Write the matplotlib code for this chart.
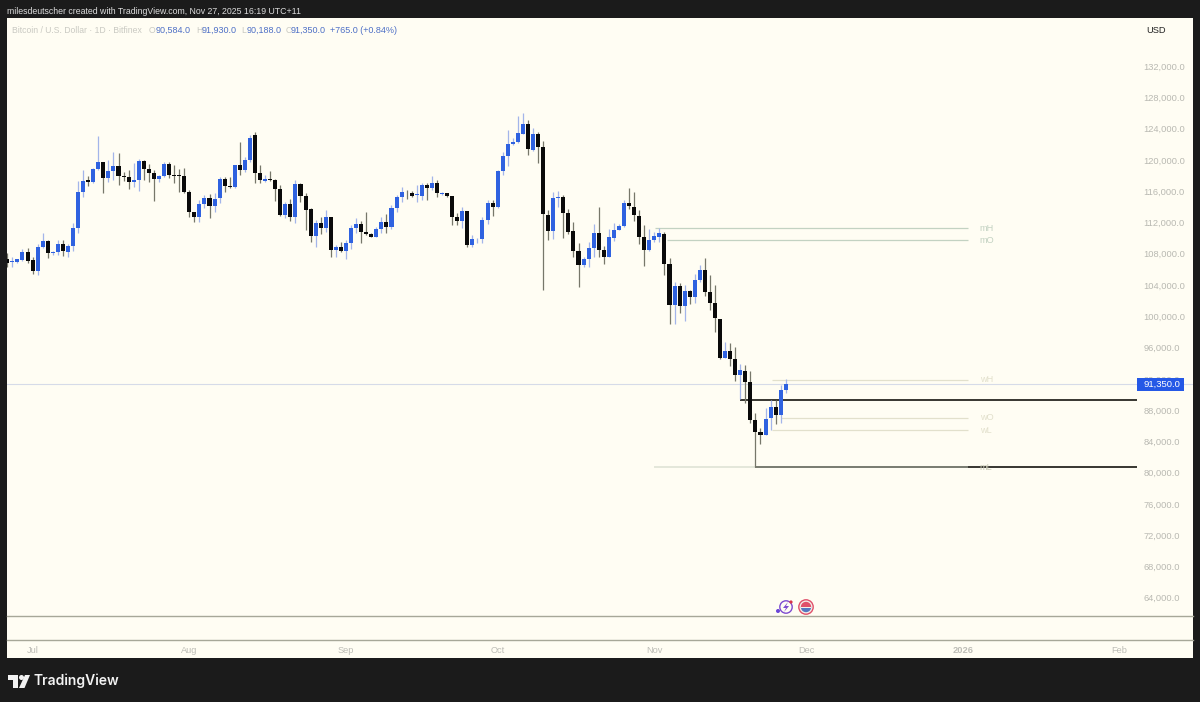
import numpy as np
import matplotlib
matplotlib.use("Agg")
import matplotlib.pyplot as plt
from matplotlib.patches import Circle, Polygon, Rectangle, Wedge

plt.rcParams['font.family'] = ['Liberation Sans', 'DejaVu Sans']

# daily candles, thousands of USD
highs = [108.13,107.61,107.36,108.55,108.68,107.53,109.23,110.60,109.75,108.38,
         109.75,109.75,109.23,111.88,117.33,118.70,117.93,118.91,123.05,119.76,
         119.98,121.00,120.83,118.48,118.70,119.55,120.06,119.98,119.46,118.70,
         118.06,119.76,119.76,119.34,118.83,118.91,116.14,113.37,114.86,115.50,
         115.63,115.71,117.76,117.76,117.84,119.34,122.24,120.40,123.17,123.52,
         119.34,118.06,118.61,117.50,116.78,114.65,114.95,117.42,116.99,115.71,
         113.80,112.30,112.73,113.58,112.64,109.11,109.53,109.75,111.66,112.52,
         112.22,113.37,110.68,111.37,112.64,113.07,114.22,115.50,116.48,116.14,
         116.05,116.78,117.08,117.08,117.93,117.42,115.93,115.80,115.37,113.24,
         113.92,113.50,110.38,109.96,112.73,114.86,114.86,118.70,121.04,123.81,
         122.75,125.60,125.94,125.09,124.03,123.60,122.45,113.58,115.84,116.06,
         115.50,113.71,112.09,109.32,107.53,109.53,111.79,114.01,108.98,111.11,
         111.88,111.79,114.86,116.36,115.84,113.58,111.67,111.11,110.81,111.32,
         110.81,107.40,104.42,104.21,104.00,103.35,105.40,106.55,107.40,105.27,
         104.00,99.68,96.74,96.53,96.10,93.84,93.76,92.99,87.57,85.66,
         88.21,89.28,89.28,91.20,91.93]
body_tops = [107.27,107.02,107.27,108.25,108.25,107.14,108.85,109.62,109.66,108.21,
             109.23,109.23,108.98,111.28,115.84,117.29,117.38,118.83,119.72,119.72,
             118.57,119.17,119.17,117.93,117.76,117.38,119.89,119.89,118.78,118.31,
             117.93,119.51,119.51,118.06,118.06,117.93,115.84,113.33,114.35,115.07,
             115.07,115.03,117.50,117.50,116.65,119.29,119.29,119.98,122.79,123.22,
             118.31,117.50,117.50,117.42,116.31,114.39,114.39,116.91,116.91,115.42,
             113.67,111.88,111.88,112.64,112.64,108.89,108.89,109.32,111.24,111.79,
             111.79,110.81,110.51,111.11,112.01,112.01,113.80,115.29,115.93,115.93,
             115.76,115.59,116.74,116.74,116.99,116.99,115.80,115.71,115.33,112.69,
             113.41,113.45,109.83,109.79,112.26,114.52,114.48,118.53,120.45,122.02,
             122.32,123.39,124.58,124.58,123.30,123.30,121.64,112.94,115.12,115.29,
             115.25,113.16,110.86,108.30,107.32,108.68,110.69,110.69,108.47,110.09,
             111.07,111.54,114.44,114.44,114.01,112.86,110.09,109.75,110.22,110.60,
             110.56,106.64,103.86,103.86,103.27,103.27,104.67,105.91,105.91,103.14,
             101.65,99.68,95.55,95.59,94.48,93.07,93.03,91.54,86.72,85.23,
             86.89,88.34,88.38,90.52,91.35]
body_bottoms = [106.85,106.89,106.97,107.19,107.10,105.78,105.78,108.85,108.08,108.04,
                108.21,108.30,108.25,108.98,111.28,115.84,117.21,117.16,118.83,117.72,
                117.72,118.57,117.89,117.76,117.16,117.12,117.38,118.83,118.27,117.59,
                117.59,117.93,118.06,117.97,117.97,115.84,113.37,112.69,112.64,114.31,
                114.09,114.09,115.07,116.65,116.48,116.48,118.74,118.70,119.98,118.31,
                117.42,117.33,117.42,116.27,112.90,112.90,112.64,112.64,115.42,113.58,
                110.26,110.26,111.32,111.32,108.47,108.47,108.30,108.30,109.32,111.28,
                110.81,110.51,110.17,110.13,111.11,111.41,111.41,113.80,115.29,115.84,
                115.42,115.46,115.42,116.40,116.35,115.71,115.67,115.37,112.73,112.13,
                112.13,109.06,109.06,109.70,109.87,112.30,113.92,113.92,118.57,120.45,
                122.07,122.24,123.34,121.34,121.30,121.64,113.03,110.90,110.90,115.08,
                113.16,110.81,108.34,106.59,106.59,107.32,108.68,108.47,107.57,107.57,
                110.05,111.03,111.54,114.10,112.90,110.17,108.43,108.43,109.75,110.17,
                106.68,101.43,101.43,101.31,101.31,102.42,102.42,104.63,103.14,101.65,
                99.73,94.69,94.69,94.52,92.43,92.43,91.54,86.72,85.23,84.80,
                84.80,86.93,87.40,87.40,90.584]
lows = [106.33,106.33,106.76,107.10,106.85,105.40,105.23,108.68,107.40,107.83,
        107.83,107.70,107.61,108.38,110.60,115.20,116.65,116.99,118.70,115.71,
        117.21,117.42,116.78,117.29,116.31,116.48,116.05,117.42,117.21,114.73,
        117.16,117.76,117.63,116.99,115.93,115.71,112.73,112.09,112.09,113.80,
        112.60,113.37,114.43,115.93,116.35,116.40,118.06,118.48,119.76,117.08,
        116.99,117.21,117.29,114.78,112.86,112.52,112.22,111.96,114.65,111.02,
        109.45,108.81,110.47,110.81,107.53,107.53,108.21,107.27,108.55,110.60,
        109.40,110.38,110.09,110.09,110.68,110.60,111.11,113.37,114.65,114.95,
        115.29,114.60,114.86,114.86,116.14,115.29,115.50,115.29,111.66,111.66,
        111.24,108.81,108.89,109.32,109.40,111.79,112.81,113.80,118.06,119.25,
        121.89,122.11,123.26,120.62,121.17,119.55,103.35,109.75,109.83,114.01,
        110.05,110.51,107.62,103.69,106.34,106.34,107.62,107.53,106.68,107.53,
        109.66,111.03,111.37,113.67,112.22,109.24,106.42,108.34,109.53,109.53,
        105.27,98.96,99.00,100.45,99.43,101.52,101.65,104.42,102.59,100.80,
        98.02,94.48,94.61,93.63,91.71,89.37,88.85,86.30,80.75,83.65,
        84.76,85.44,86.17,86.38,90.188]
candle_dir = ("kbbbkkbbkb" "bkbbbbkbbk" "bbkkkbbkkk" "bbkkkkkkbb" "kbbkkbkbbk"
              "kbkkkbkbkk" "kbkbkbkbbb" "kkkbbkbbbk" "kbbkbkbkkk" "bkbbbbkbbb"
              "bbbkbkkkbb" "kkkkbbbkkb" "bbbkkkkbbb" "kkbkbkbbkk" "kkbkkbkkkk"
              "bbkbb")

price_ticks = list(range(64000, 136000, 4000))
month_pos = [5, 36, 67, 97, 128, 158, 189, 220]
month_labels = ["Jul", "Aug", "Sep", "Oct", "Nov", "Dec", "2026", "Feb"]
last_price = 91350

# name, price, first candle, last candle
levels = [("mH", 111280, 128.1, 190.0),
          ("mO", 109750, 130.5, 190.0),
          ("wH", 91850, 151.2, 190.0),
          ("wO", 86990, 153.1, 190.0),
          ("wL", 85450, 151.2, 190.0)]
level_colors = ["#c3d2c2", "#c3d2c2", "#e2e0cc", "#e2e0cc", "#e2e0cc"]
mL_price = 80720
black_lines = [(89340, 144.9, 223.5), (80720, 148.0, 223.5)]

BLUE = "#2f62e0"
BLACK = "#0a0a0a"
BG = "#fffdf3"
DARK = "#1b1b1b"

highs = np.array(highs) * 1000
lows = np.array(lows) * 1000
body_tops = np.array(body_tops) * 1000
body_bottoms = np.array(body_bottoms) * 1000
idx = np.arange(len(highs))
is_up = np.array([c == "b" for c in candle_dir])

fig = plt.figure(figsize=(12, 7.02), dpi=100, facecolor=DARK)
# pane is x 7..1193, y 18..658 in picture pixels
ax = fig.add_axes([7 / 1200, 1 - 658 / 702, 1186 / 1200, 640 / 702], facecolor=BG)
ax.set_xlim(-0.06, 234.56)
ax.set_ylim(56300, 138140)
for s in ax.spines.values():
    s.set_visible(False)

ax.axhline(last_price, color="#d6dbe8", lw=0.8, zorder=1)

for (name, price, x0, x1), col in zip(levels, level_colors):
    ax.hlines(price, x0, x1, color=col, lw=0.9, zorder=1)
    ax.text(192.4, price, name, color=col, fontsize=6.6, va="center", ha="left")

for price, x0, x1 in black_lines:
    ax.hlines(price, x0, x1, color="#15150f", lw=1.2, zorder=1.5)
ax.hlines(mL_price, 127.9, 190.0, color="#c6cebd", lw=1.1, alpha=0.6, zorder=1.6)
ax.text(192.4, mL_price, "mL", color="#c8c8b4", fontsize=6.6, va="center", ha="left")

ax.vlines(idx[~is_up], lows[~is_up], highs[~is_up], color="#77776a", lw=0.9, zorder=2)
ax.vlines(idx[is_up], lows[is_up], highs[is_up], color="#a3b5ea", lw=0.9, zorder=2)
ax.bar(idx[~is_up], (body_tops - body_bottoms)[~is_up], 0.8, bottom=body_bottoms[~is_up],
       color=BLACK, zorder=2.2)
ax.bar(idx[is_up], (body_tops - body_bottoms)[is_up], 0.8, bottom=body_bottoms[is_up],
       color=BLUE, zorder=2.2)

ax.yaxis.tick_right()
ax.set_yticks(price_ticks)
ax.set_yticklabels(["{:,.1f}".format(p) for p in price_ticks])
ax.tick_params(axis="y", length=0, pad=-35.5, labelsize=6.7, labelcolor="#b9b9b2")
ax.set_xticks(month_pos)
ax.set_xticklabels(month_labels)
ax.tick_params(axis="x", length=0, pad=-8.8, labelsize=6.7, labelcolor="#bdbdb6")
ax.get_xticklabels()[6].set_fontweight("bold")

# chrome in picture pixels
ov = fig.add_axes([0, 0, 1, 1], facecolor="none")
ov.set_xlim(0, 1200)
ov.set_ylim(702, 0)
ov.axis("off")

ov.plot([7, 1193], [616, 616], color="#a7a798", lw=1.0)
ov.plot([7, 1193], [640, 640], color="#a7a798", lw=1.0)

ov.text(7, 11, "milesdeutscher created with TradingView.com, Nov 27, 2025 16:19 UTC+11",
        color="#dcdcdc", fontsize=6.33, va="center")

ov.text(12, 30.5, "Bitcoin / U.S. Dollar \u00b7 1D \u00b7 Bitfinex", color="#c9c9c2", fontsize=6.25, va="center")
vals = [(149, "O", 155.5, "90,584.0"), (196, "H", 201.5, "91,930.0"),
        (241, "L", 246.5, "90,188.0"), (286, "C", 291, "91,350.0")]
for xl, lab, xv, val in vals:
    ov.text(xl, 30.5, lab, color="#c9c9c2", fontsize=6.25, va="center")
    ov.text(xv, 30.5, val, color="#4d6fc6", fontsize=6.45, va="center")
ov.text(330, 30.5, "+765.0 (+0.84%)", color="#4d6fc6", fontsize=6.45, va="center")
ov.text(1146, 30.5, "USD", color="#222222", fontsize=6.7, va="center")

ov.add_patch(Rectangle((1137, 378), 47, 13, color="#2558e6", lw=0, zorder=5))
ov.text(1143, 384.7, "{:,.1f}".format(last_price), color="white", fontsize=6.8,
        va="center", zorder=6)

# news icons
ov.add_patch(Circle((786, 607), 6.2, fill=False, ec="#7e4bd0", lw=1.0, zorder=5))
ov.add_patch(Circle((778, 611), 2.0, color="#6a45d8", lw=0, zorder=5))
ov.add_patch(Circle((791, 602), 1.6, color="#d8344a", lw=0, zorder=5))
ov.add_patch(Polygon([(788, 602), (783, 608), (786, 608), (784, 612), (789, 606), (786, 606)],
                     color="#7e4bd0", lw=0, zorder=5))
ov.add_patch(Circle((806, 607), 7.2, fc="#f4f0ea", ec="#e0506a", lw=1.0, zorder=5))
ov.add_patch(Wedge((806, 607), 5.2, 180, 360, color="#e0506a", lw=0, zorder=5))
ov.add_patch(Wedge((806, 607), 5.2, 0, 180, color="#5577c0", lw=0, zorder=5))
ov.add_patch(Rectangle((801, 607), 10, 1.4, color="#f4f0ea", lw=0, zorder=6))

# TradingView logo
white = "#f2f2f2"
ov.add_patch(Polygon([(8, 675), (17.5, 675), (17.5, 688), (12.5, 688), (12.5, 680), (8, 680)],
                     color=white, lw=0))
ov.add_patch(Circle((21.5, 677.5), 2.5, color=white, lw=0))
ov.add_patch(Polygon([(25, 675), (30, 675), (24.5, 688), (19, 688)], color=white, lw=0))
ov.text(34, 681, "TradingView", color=white, fontsize=10.0, fontweight="semibold",
        fontfamily=["Inter", "Liberation Sans"], va="center")

fig.savefig("out.png", dpi=100, facecolor=DARK)
